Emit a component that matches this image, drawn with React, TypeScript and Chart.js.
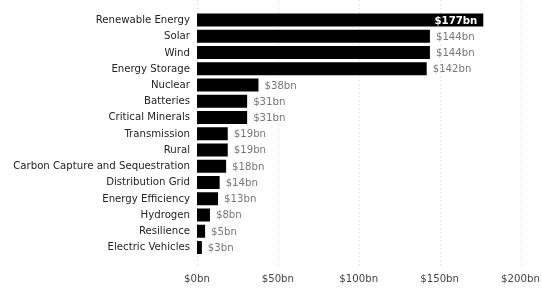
import React, { useEffect, useRef } from "react";
import { Chart, registerables } from "chart.js";

Chart.register(...registerables);

const categories = [
  "Renewable Energy",
  "Solar",
  "Wind",
  "Energy Storage",
  "Nuclear",
  "Batteries",
  "Critical Minerals",
  "Transmission",
  "Rural",
  "Carbon Capture and Sequestration",
  "Distribution Grid",
  "Energy Efficiency",
  "Hydrogen",
  "Resilience",
  "Electric Vehicles",
];
const values = [177, 144, 144, 142, 38, 31, 31, 19, 19, 18, 14, 13, 8, 5, 3];
const xTicks = [0, 50, 100, 150, 200];

const FONT = "'DejaVu Sans Condensed', 'DejaVu Sans', sans-serif";
const FS = 11.3;

const fmt = (v: number) => `$${v}bn`;

const gridPlugin = {
  id: "dotGrid",
  beforeDatasetsDraw(chart: any) {
    const { ctx, scales } = chart;
    const x = scales.x;
    ctx.save();
    ctx.strokeStyle = "#d6d6d6";
    ctx.lineWidth = 1;
    ctx.setLineDash([1, 3]);
    xTicks.forEach((t) => {
      const px = Math.round(x.getPixelForValue(t)) + 0.5;
      ctx.beginPath();
      ctx.moveTo(px, 0);
      ctx.lineTo(px, 267);
      ctx.stroke();
    });
    ctx.restore();
  },
};

const labelPlugin = {
  id: "valLabels",
  afterDatasetsDraw(chart: any) {
    const { ctx } = chart;
    const meta = chart.getDatasetMeta(0);
    ctx.save();
    ctx.textBaseline = "middle";
    meta.data.forEach((bar: any, i: number) => {
      const v = values[i];
      const text = fmt(v);
      if (v > 170) {
        ctx.fillStyle = "#ffffff";
        ctx.font = `bold ${FS}px ${FONT}`;
        ctx.textAlign = "right";
        ctx.fillText(text, bar.x - 6, bar.y + 0.5);
      } else {
        ctx.fillStyle = "#777777";
        ctx.font = `${FS}px ${FONT}`;
        ctx.textAlign = "left";
        ctx.fillText(text, bar.x + 6, bar.y + 0.5);
      }
    });
    ctx.restore();
  },
};

export default function App() {
  const ref = useRef<HTMLCanvasElement>(null);
  useEffect(() => {
    document.body.style.margin = "0";
    const chart = new Chart(ref.current!, {
      type: "bar",
      data: {
        labels: categories,
        datasets: [
          {
            data: values,
            backgroundColor: "#000000",
            borderWidth: 0,
            categoryPercentage: 1,
            barPercentage: 0.8,
          },
        ],
      },
      options: {
        indexAxis: "y",
        animation: false,
        responsive: false,
        maintainAspectRatio: false,
        layout: { padding: { top: 12, right: 21.5, left: 0, bottom: 0 } },
        plugins: { legend: { display: false }, tooltip: { enabled: false } },
        scales: {
          x: {
            min: 0,
            max: 200,
            afterBuildTicks: (s: any) => {
              s.ticks = xTicks.map((v) => ({ value: v }));
            },
            afterFit: (s: any) => {
              s.paddingLeft = 0;
              s.paddingRight = 0;
              s.height = 35.4;
            },
            grid: { display: false, drawTicks: false },
            border: { display: false },
            ticks: {
              padding: 17,
              color: "#444444",
              font: { family: FONT, size: FS },
              callback: (v: any) => fmt(Number(v)),
            },
          },
          y: {
            afterFit: (s: any) => {
              s.width = 197;
              s.paddingTop = 0;
              s.paddingBottom = 0;
            },
            grid: { display: false, drawTicks: false },
            border: { display: false },
            ticks: {
              padding: 7,
              color: "#252423",
              font: { family: FONT, size: FS },
              autoSkip: false,
            },
          },
        },
      },
      plugins: [gridPlugin, labelPlugin],
    });
    return () => chart.destroy();
  }, []);
  return (
    <div style={{ width: 542, height: 291 }}>
      <canvas ref={ref} width={542} height={291} style={{ display: "block" }} />
    </div>
  );
}
